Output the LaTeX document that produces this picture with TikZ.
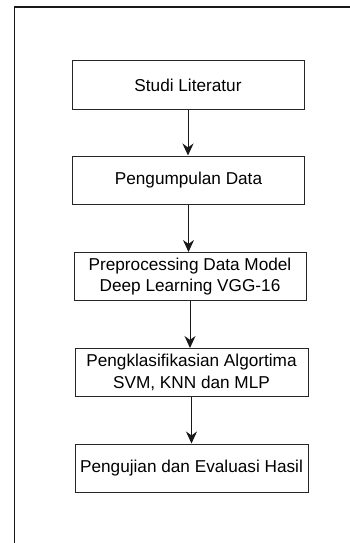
\documentclass[tikz,border=0pt]{standalone}
\usepackage{fontspec}
\setmainfont{Liberation Sans}
\usetikzlibrary{arrows.meta,positioning}

\begin{document}
\begin{tikzpicture}[x=1pt,y=-1pt,
    stepbox/.style={draw=black!85,line width=1pt,minimum width=232pt,minimum height=48pt,
        inner sep=0pt,align=center,font=\fontsize{17.2}{21.5}\selectfont},
    flow/.style={-{Stealth[length=12pt,width=11pt]},line width=1pt,draw=black!90}]
    \useasboundingbox (0,0) rectangle (350,543);
    % frame
    \draw[line width=1.4pt,black!90] (350,7) -- (14.5,7) -- (14.5,543);
    % steps
    \node[stepbox] (studi) at (188,85) {Studi Literatur};
    \node[stepbox] (kumpul) at (188.5,180) {Pengumpulan Data};
    \node[stepbox] (prep) at (190,276.5) {Preprocessing Data Model\\Deep Learning VGG-16};
    \node[stepbox,minimum width=233pt] (klas) at (191.5,372.5) {Pengklasifikasian Algortima\\SVM, KNN dan MLP};
    \node[stepbox,minimum width=233pt] (uji) at (191.5,468) {Pengujian dan Evaluasi Hasil};
    % arrows
    \draw[flow] (studi.south) -- (studi.south |- kumpul.north);
    \draw[flow] (kumpul.south) -- (kumpul.south |- prep.north);
    \draw[flow] (prep.south) -- (prep.south |- klas.north);
    \draw[flow] (klas.south) -- (klas.south |- uji.north);
\end{tikzpicture}
\end{document}
